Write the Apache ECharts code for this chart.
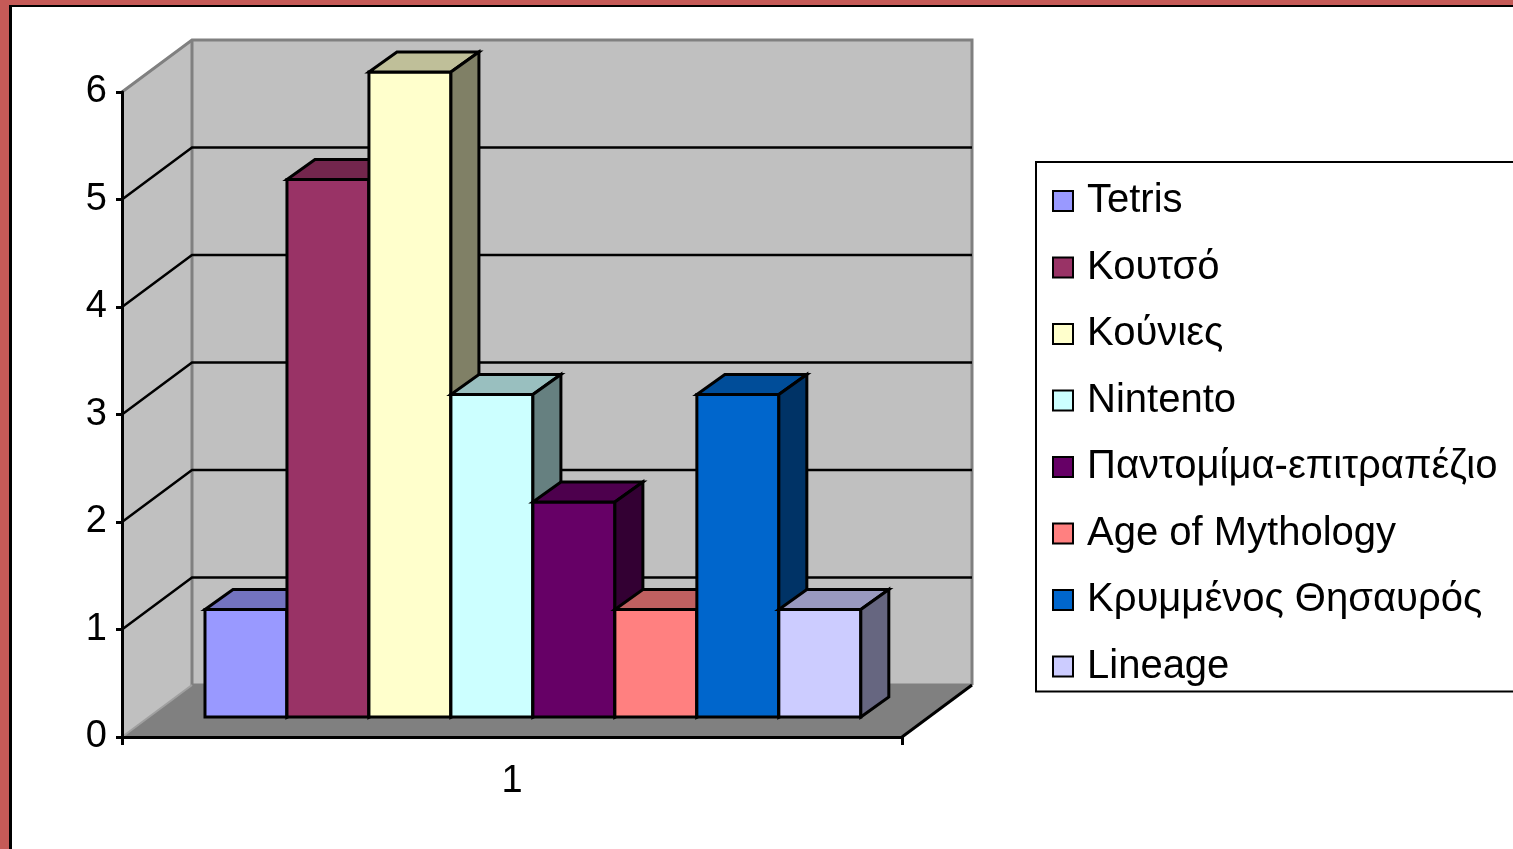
<!DOCTYPE html>
<html>
<head>
<meta charset="utf-8">
<title>Παιχνίδια</title>
<script src="https://cdn.jsdelivr.net/npm/echarts@6/dist/echarts.min.js"></script>
<style>
html, body { margin: 0; padding: 0; width: 1513px; height: 849px; overflow: hidden; background: #c55a57; }
#sheet { position: absolute; left: 9px; top: 5px; width: 1600px; height: 900px; background: #fff; border-left: 3px solid #000; border-top: 2px solid #000; }
#chart { position: absolute; left: 0; top: 0; width: 1513px; height: 849px; }
</style>
</head>
<body>
<div id="sheet"></div>
<div id="chart"></div>
<script>
// data
const categories = ['1']
const games = ['Tetris', 'Κουτσό', 'Κούνιες', 'Nintento', 'Παντομίμα-επιτραπέζιο', 'Age of Mythology', 'Κρυμμένος Θησαυρός', 'Lineage']
const values = [1, 5, 6, 3, 2, 1, 3, 1]
const colors = ['#9999ff', '#993366', '#ffffcc', '#ccffff', '#660066', '#ff8080', '#0066cc', '#ccccff']
const yMin = 0
const yMax = 6
const yStep = 1

const FONT = 'Arial, "Liberation Sans", sans-serif'
// oblique 3d offsets (pixels)
const WALL_DEPTH = [70, -52]
const DX = 28, DY = -20
const BAR_START = 0.0705   // fraction of the category band before first bar
const BAR_W = 0.1051       // fraction of the band per bar

const shade = (hex, k) => {
  const n = parseInt(hex.slice(1), 16)
  const r = Math.round(((n >> 16) & 255) * k)
  const g = Math.round(((n >> 8) & 255) * k)
  const b = Math.round((n & 255) * k)
  return 'rgb(' + r + ',' + g + ',' + b + ')'
}

const renderWalls = (params, api) => {
  const cs = params.coordSys
  const xl = cs.x, xr = cs.x + cs.width
  const y0 = api.coord([0, yMin])[1]
  const yt = api.coord([0, yMax])[1]
  const wx = WALL_DEPTH[0], wy = WALL_DEPTH[1]
  const gray = { stroke: '#808080', lineWidth: 3, fill: null }
  const children = [
    { type: 'polygon', shape: { points: [[xl, y0], [xr, y0], [xr + wx, y0 + wy], [xl + wx, y0 + wy]] }, style: { fill: '#808080' } },
    { type: 'polygon', shape: { points: [[xl, y0], [xl + wx, y0 + wy], [xl + wx, yt + wy], [xl, yt]] }, style: { fill: '#c0c0c0' } },
    { type: 'polygon', shape: { points: [[xl + wx, yt + wy], [xr + wx, yt + wy], [xr + wx, y0 + wy], [xl + wx, y0 + wy]] }, style: { fill: '#c0c0c0' } },
    { type: 'polyline', shape: { points: [[xl, yt], [xl + wx, yt + wy], [xr + wx, yt + wy], [xr + wx, y0 + wy]] }, style: gray },
    { type: 'polyline', shape: { points: [[xl + wx, yt + wy], [xl + wx, y0 + wy], [xr + wx, y0 + wy]] }, style: gray },
    { type: 'polyline', shape: { points: [[xl, y0], [xl + wx, y0 + wy]] }, style: { stroke: '#a0a0a0', lineWidth: 2, fill: null } },
    { type: 'polyline', shape: { points: [[xr, y0], [xr + wx, y0 + wy]] }, style: { stroke: '#000', lineWidth: 3, fill: null } }
  ]
  for (let v = yMin + yStep; v < yMax; v += yStep) {
    const y = api.coord([0, v])[1]
    children.push({ type: 'polyline', shape: { points: [[xl, y], [xl + wx, y + wy], [xr + wx, y + wy]] }, style: { stroke: '#000', lineWidth: 2.5, fill: null } })
  }
  return { type: 'group', children }
}

const barRenderer = (i) => (params, api) => {
  const band = api.size([1, 0])[0]
  const base = api.coord([api.value(0), 0])
  const top = api.coord([api.value(0), api.value(1)])
  const bw = band * BAR_W
  const x0 = base[0] - band / 2 + band * BAR_START + i * bw + DX
  const x1 = x0 + bw
  const yb = base[1] + DY
  const yt = top[1] + DY
  const edge = { stroke: '#000', lineWidth: 3, lineJoin: 'miter' }
  return {
    type: 'group',
    children: [
      { type: 'polygon', shape: { points: [[x0, yt], [x1, yt], [x1, yb], [x0, yb]] }, style: Object.assign({ fill: colors[i] }, edge) },
      { type: 'polygon', shape: { points: [[x0, yt], [x1, yt], [x1 + DX, yt + DY], [x0 + DX, yt + DY]] }, style: Object.assign({ fill: shade(colors[i], 0.75) }, edge) },
      { type: 'polygon', shape: { points: [[x1, yt], [x1 + DX, yt + DY], [x1 + DX, yb + DY], [x1, yb]] }, style: Object.assign({ fill: shade(colors[i], 0.5) }, edge) }
    ]
  }
}

const series = [{
  name: 'walls',
  type: 'custom',
  silent: true,
  clip: false,
  z: 1,
  renderItem: renderWalls,
  data: [[0, 0]]
}]
games.forEach((g, i) => {
  series.push({
    name: g,
    type: 'custom',
    clip: false,
    z: 2,
    itemStyle: { color: colors[i], borderColor: '#000', borderWidth: 2 },
    renderItem: barRenderer(i),
    data: [[0, values[i]]]
  })
})

const chart = echarts.init(document.getElementById('chart'))
chart.setOption({
  animation: false,
  backgroundColor: 'transparent',
  grid: { left: 122, top: 92, right: 611, bottom: 112, outerBoundsMode: 'none' },
  xAxis: {
    type: 'category',
    data: categories,
    z: 10,
    axisLine: { show: true, lineStyle: { color: '#000', width: 3 } },
    axisTick: { show: true, length: 8, alignWithLabel: false, lineStyle: { color: '#000', width: 3 } },
    axisLabel: { fontSize: 38, color: '#000', fontFamily: FONT, margin: 26 },
    splitLine: { show: false }
  },
  yAxis: {
    type: 'value',
    min: yMin,
    max: yMax,
    interval: yStep,
    z: 10,
    axisLine: { show: true, lineStyle: { color: '#000', width: 3 } },
    axisTick: { show: true, length: 6, lineStyle: { color: '#000', width: 3 } },
    axisLabel: { fontSize: 38, color: '#000', fontFamily: FONT, margin: 15 },
    splitLine: { show: false }
  },
  legend: {
    orient: 'vertical',
    left: 1036,
    top: 162,
    padding: [19, 80, 5, 16],
    itemGap: 26.5,
    itemWidth: 20,
    itemHeight: 20,
    icon: 'rect',
    backgroundColor: '#fff',
    borderColor: '#000',
    borderWidth: 2,
    borderRadius: 0,
    selectedMode: false,
    textStyle: { fontSize: 40, color: '#000', fontFamily: FONT, lineHeight: 40, padding: [0, 0, 0, 9] },
    itemStyle: { borderColor: '#000', borderWidth: 2 },
    data: games
  },
  series: series
})
</script>
</body>
</html>
